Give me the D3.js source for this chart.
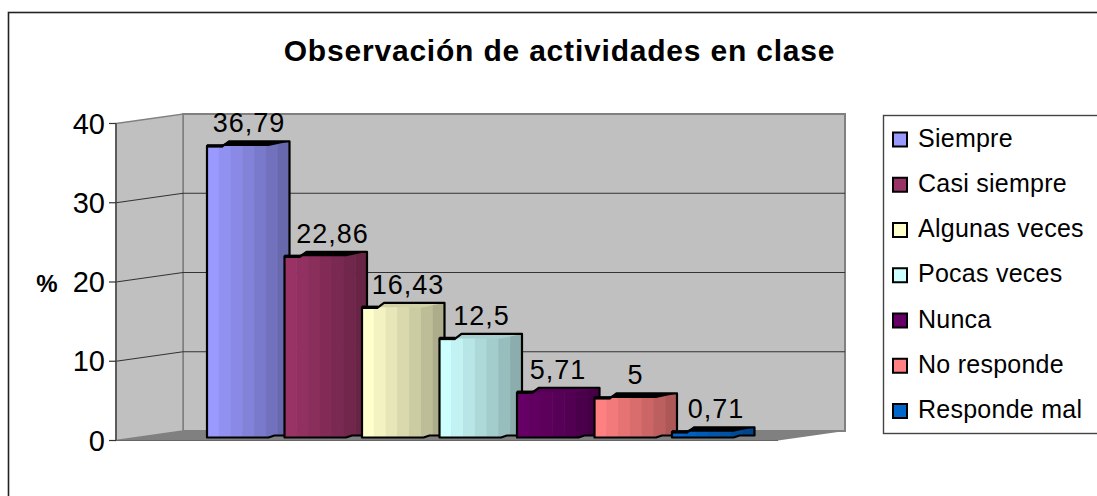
<!DOCTYPE html>
<html><head><meta charset="utf-8">
<script src="https://cdn.jsdelivr.net/npm/d3@7"></script>
<style>html,body{margin:0;padding:0;background:#fff;overflow:hidden}svg{display:block}text{font-family:"Liberation Sans",Arial,sans-serif;fill:#000}</style>
</head><body><svg id="c" width="1097" height="496"></svg>
<script>
const title = "Observación de actividades en clase";
const yAxisLabel = "%";
const categories = ["Siempre","Casi siempre","Algunas veces","Pocas veces","Nunca","No responde","Responde mal"];
const values = [36.79,22.86,16.43,12.5,5.71,5,0.71];
const labels = ["36,79","22,86","16,43","12,5","5,71","5","0,71"];
const colors = ["#9999ff","#993366","#ffffcc","#ccffff","#660066","#ff8080","#0066cc"];
const yTicks = [0,10,20,30,40];

const svg = d3.select("#c");
const y = d3.scaleLinear().domain([0,40]).range([440.5,123.5]);
const depthX=67, depthY=9.5;
const x = d3.scaleBand().domain(categories).range([207,749.5]);
const barW=82.5, sideW=21, barRise=4.5, barBaseOff=3;
const labelDx=[42,48,46,42,41,41,44];
const topFaceVisible=[false,false,true,true,true,false,false];

svg.append("rect").attr("x",8.5).attr("y",12.5).attr("width",1200).attr("height",700).attr("fill","#fff").attr("stroke","#222").attr("stroke-width",1.6);
svg.append("text").attr("x",559.5).attr("y",61).attr("text-anchor","middle").attr("font-size",30).attr("letter-spacing",0.8).attr("font-weight","bold").text(title);

const g=svg.append("g");
const x0=116, x1=778;
g.append("polygon").attr("points",[[x0+depthX,y(40)-depthY],[x1+depthX,y(40)-depthY],[x1+depthX,y(0)-depthY],[x0+depthX,y(0)-depthY]].join(" ")).attr("fill","#c0c0c0").attr("stroke","#808080").attr("stroke-width",2);
g.append("polygon").attr("points",[[x0,y(40)],[x0+depthX,y(40)-depthY],[x0+depthX,y(0)-depthY],[x0,y(0)]].join(" ")).attr("fill","#c0c0c0").attr("stroke","#808080").attr("stroke-width",1.5);
g.append("polygon").attr("points",[[x0,y(0)],[x0+depthX,y(0)-depthY],[x1+depthX,y(0)-depthY],[x1,y(0)]].join(" ")).attr("fill","#808080");
yTicks.filter(t=>t>0&&t<40).forEach(t=>{
  g.append("path").attr("d",d3.line()([[x0,y(t)],[x0+depthX,y(t)-depthY],[x1+depthX,y(t)-depthY]])).attr("fill","none").attr("stroke","#333").attr("stroke-width",1.2);
});
g.append("line").attr("x1",x0).attr("x2",x0).attr("y1",y(40)).attr("y2",y(0)).attr("stroke","#444").attr("stroke-width",1.4);
g.append("line").attr("x1",x0).attr("x2",x1).attr("y1",y(0)).attr("y2",y(0)).attr("stroke","#666").attr("stroke-width",1.2);
yTicks.forEach(t=>{
  g.append("line").attr("x1",x0-7).attr("x2",x0).attr("y1",y(t)).attr("y2",y(t)).attr("stroke","#333").attr("stroke-width",1.2);
  g.append("text").attr("x",x0-11).attr("y",y(t)+10).attr("text-anchor","end").attr("font-size",29).text(t);
});
g.append("text").attr("x",47).attr("y",292).attr("text-anchor","middle").attr("font-size",24).attr("font-weight","bold").text(yAxisLabel);

const defs=svg.append("defs");
const bands=[1,.95,.9,.85,.8,.74,.68];
categories.forEach((c,i)=>{
  const L=x(c), R=L+barW, FR=R-sideW;
  const yb=y(0)-barBaseOff, yt=y(values[i])-barBaseOff;
  const outline=[[L,yt],[L+16,yt],[L+22,yt-barRise],[R,yt-barRise],[R,yb-2],[FR+6,yb-2],[FR,yb],[L,yb]];
  const id="clip"+i;
  defs.append("clipPath").attr("id",id).append("polygon").attr("points",outline.join(" "));
  const bg=g.append("g").attr("clip-path",`url(#${id})`);
  const bw=barW/bands.length;
  const col=d3.rgb(colors[i]);
  bands.forEach((b,k)=>{
    bg.append("rect").attr("x",L+k*bw).attr("y",yt-barRise-1).attr("width",bw+.5).attr("height",yb-yt+barRise+2)
      .attr("fill",d3.rgb(col.r*b,col.g*b,col.b*b));
  });
  const topFill=topFaceVisible[i]?d3.rgb(col.r*.82,col.g*.82,col.b*.82):"#000";
  g.append("polygon").attr("points",[[L+12,yt],[L+22,yt-barRise],[R,yt-barRise],[FR,yt]].join(" ")).attr("fill",topFill);
  g.append("polygon").attr("points",outline.join(" ")).attr("fill","none").attr("stroke","#000").attr("stroke-width",2.2).attr("stroke-linejoin","round");
  g.append("path").attr("d",d3.line()([[L,yt],[L+16,yt]])).attr("fill","none").attr("stroke","#000").attr("stroke-width",3.4);
  g.append("text").attr("x",L+labelDx[i]).attr("y",yt-13.5).attr("text-anchor","middle").attr("font-size",27).attr("letter-spacing",1).text(labels[i]);
});

const lg=svg.append("g");
lg.append("rect").attr("x",883.5).attr("y",115.5).attr("width",300).attr("height",318).attr("fill","#fff").attr("stroke","#444").attr("stroke-width",1.4);
const ly=d3.scalePoint().domain(categories).range([139.5,411]);
categories.forEach((c,i)=>{
  lg.append("rect").attr("x",893).attr("y",ly(c)-7).attr("width",14).attr("height",14).attr("fill",colors[i]).attr("stroke","#000").attr("stroke-width",2);
  lg.append("text").attr("x",918).attr("y",ly(c)+7).attr("font-size",25).attr("letter-spacing",0.25).text(c);
});
</script></body></html>
